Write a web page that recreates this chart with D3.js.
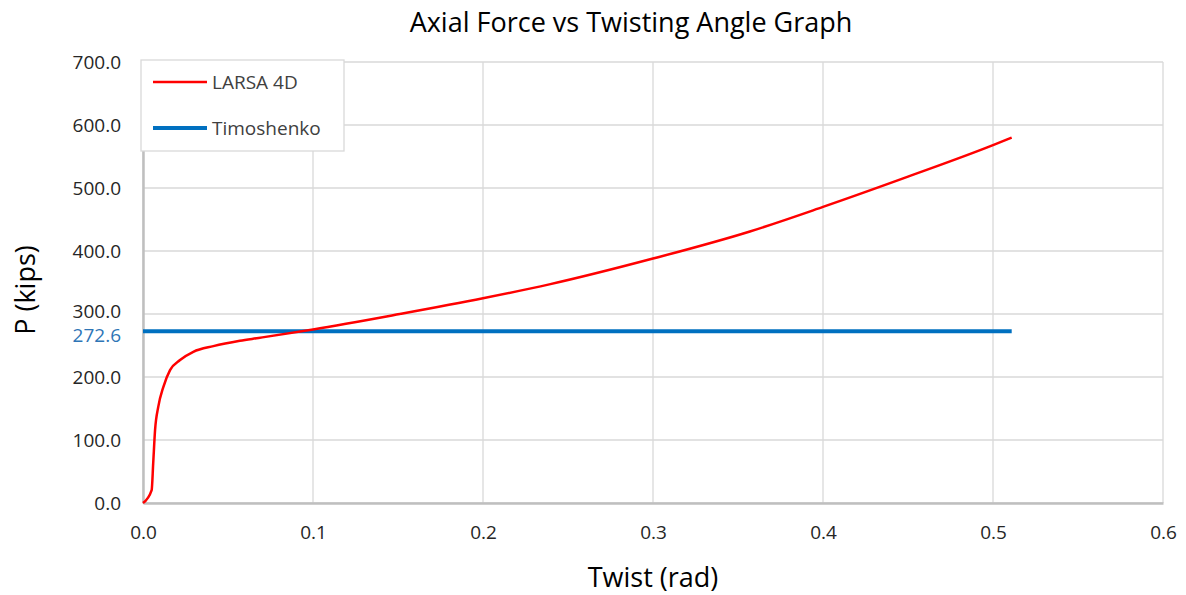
<!DOCTYPE html>
<meta http-equiv="Content-type" content="text/html; charset=UTF-8"/>
<style>
  body { margin: 0; background: #fff; }
  * { font-family: 'Open Sans', 'Liberation Sans', sans-serif; }
</style>
<svg width="1186" height="595"></svg>
<script src="https://cdn.jsdelivr.net/npm/d3@7/dist/d3.min.js"></script>
<script>
// LARSA 4D curve
var twist = [0, 0.0051, 0.006, 0.0071, 0.009, 0.012, 0.0159, 0.0218, 0.0296, 0.0414,
             0.057, 0.068, 0.1, 0.151, 0.2, 0.239, 0.3, 0.357, 0.4, 0.45, 0.5, 0.511];
var force = [0, 20.6, 63, 116, 153, 184.5, 211, 227, 240, 249,
             257.5, 262, 275.5, 300, 325, 347, 388, 431, 470, 518, 568, 580];

// Timoshenko critical load
var timoTwist = [0, 0.511];
var timoForce = [272.6, 272.6];

var xTicks = [0, 0.1, 0.2, 0.3, 0.4, 0.5, 0.6];
var yTicks = [0, 100, 200, 300, 400, 500, 600, 700];

var svg = d3.select("svg"),
    margin = {top: 62, right: 23, bottom: 92, left: 143},
    width = +svg.attr("width") - margin.left - margin.right,
    height = +svg.attr("height") - margin.top - margin.bottom,
    g = svg.append("g").attr("transform", "translate(" + margin.left + "," + margin.top + ")");

var x = d3.scaleLinear().domain([0, 0.6]).range([0, width]);
var y = d3.scaleLinear().domain([0, 700]).range([height, 0]);

// grid
g.append("g")
    .selectAll("line.h")
    .data(yTicks)
  .enter().append("line")
    .attr("x1", 0).attr("x2", width)
    .attr("y1", d => y(d)).attr("y2", d => y(d))
    .attr("stroke", "#d9d9d9").attr("stroke-width", 1.3);

g.append("g")
    .selectAll("line.v")
    .data(xTicks)
  .enter().append("line")
    .attr("y1", 0).attr("y2", height)
    .attr("x1", d => x(d)).attr("x2", d => x(d))
    .attr("stroke", "#d9d9d9").attr("stroke-width", 1.3);

// axes
var xAxis = g.append("g")
    .attr("transform", "translate(0," + height + ")")
    .call(d3.axisBottom(x).tickValues(xTicks).tickFormat(d3.format(".1f")).tickSize(0).tickPadding(23));
xAxis.select(".domain").attr("stroke", "#bfbfbf").attr("stroke-width", 2.5);
xAxis.selectAll("text").style("font-size", "19px").attr("fill", "#262626");

var yAxis = g.append("g")
    .call(d3.axisLeft(y).tickValues(yTicks).tickFormat(d3.format(".1f")).tickSize(0).tickPadding(22));
yAxis.select(".domain").attr("stroke", "#bfbfbf").attr("stroke-width", 2.5);
yAxis.selectAll("text").style("font-size", "19px").attr("fill", "#262626");
// nudge the 300.0 label up a little to leave room for 272.6
yAxis.selectAll(".tick text").filter(d => d === 300).attr("dy", "0.2em");

// series
var line = d3.line()
    .x(d => x(d[0]))
    .y(d => y(d[1]))
    .curve(d3.curveMonotoneX);

g.append("path")
    .datum(d3.zip(timoTwist, timoForce))
    .attr("fill", "none")
    .attr("stroke", "#0070c0")
    .attr("stroke-width", 4)
    .attr("d", line);

g.append("path")
    .datum(d3.zip(twist, force))
    .attr("fill", "none")
    .attr("stroke", "#ff0000")
    .attr("stroke-width", 2.5)
    .attr("d", line);

// critical load label
g.append("text")
    .attr("x", -22)
    .attr("y", y(272.6) + 4)
    .attr("dy", "0.35em")
    .attr("text-anchor", "end")
    .attr("fill", "#2e75b6")
    .style("font-size", "19px")
    .text("272.6");

// legend
var legend = g.append("g").attr("transform", "translate(-2,-2)");
legend.append("rect")
    .attr("width", 203).attr("height", 91)
    .attr("fill", "#fff").attr("stroke", "#d9d9d9").attr("stroke-width", 1.3);
var items = [["LARSA 4D", "#ff0000", 2.5, 22], ["Timoshenko", "#0070c0", 4, 68]];
items.forEach(function(it) {
  legend.append("line")
      .attr("x1", 12).attr("x2", 66)
      .attr("y1", it[3]).attr("y2", it[3])
      .attr("stroke", it[1]).attr("stroke-width", it[2]);
  legend.append("text")
      .attr("x", 71).attr("y", it[3])
      .attr("dy", "0.35em")
      .attr("fill", "#404040")
      .style("font-size", "19px")
      .text(it[0]);
});

// titles
svg.append("text")
    .attr("x", 631).attr("y", 32)
    .attr("text-anchor", "middle")
    .attr("fill", "#000")
    .style("font-size", "27px")
    .text("Axial Force vs Twisting Angle Graph");

svg.append("text")
    .attr("x", 653).attr("y", 587)
    .attr("text-anchor", "middle")
    .attr("fill", "#000")
    .style("font-size", "27px")
    .text("Twist (rad)");

svg.append("text")
    .attr("transform", "translate(35,290) rotate(-90)")
    .attr("text-anchor", "middle")
    .attr("fill", "#000")
    .style("font-size", "27px")
    .text("P (kips)");
</script>
